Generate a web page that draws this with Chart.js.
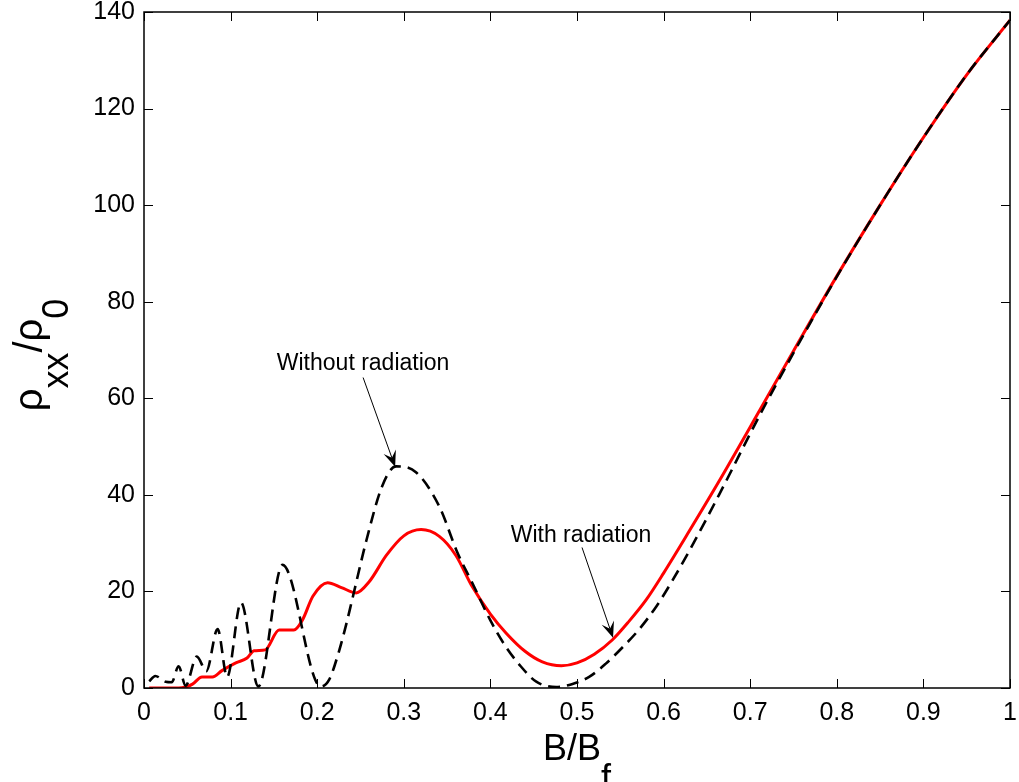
<!DOCTYPE html>
<html>
<head>
<meta charset="utf-8">
<script src="https://cdn.jsdelivr.net/npm/chart.js@4.4.0/dist/chart.umd.min.js"></script>
<style>
  body { margin: 0; background: #fff; }
  canvas { display: block; }
</style>
</head>
<body>
<canvas id="chart" width="1019" height="782"></canvas>
<script>
// values: B/Bf on x, rho_xx/rho_0 on y
const withRadB = [0.006, 0.02, 0.04, 0.048, 0.056, 0.067, 0.079, 0.09, 0.106, 0.119, 0.127, 0.14, 0.156, 0.173,
  0.183, 0.195, 0.212, 0.228, 0.245, 0.26, 0.28, 0.30, 0.32, 0.341, 0.36, 0.379, 0.40, 0.418, 0.44, 0.46, 0.482,
  0.50, 0.52, 0.541, 0.56, 0.58, 0.60, 0.63, 0.664, 0.711, 0.75, 0.80, 0.85, 0.90, 0.95, 1.0];
const withRadRho = [0, 0, 0, 0.2, 0.8, 2.3, 2.3, 3.6, 5.2, 6.2, 7.7, 7.9, 12, 12,
  14.1, 19, 21.8, 20.8, 19.7, 22, 27.5, 31.5, 32.8, 31.4, 27.5, 21, 15.3, 11.4, 7.6, 5.4, 4.6,
  5.2, 7, 10, 13.8, 18.3, 23.8, 32.6, 42.8, 57.5, 69.8, 85.3, 100, 114, 127, 138.3];

const noRadB = [0.006, 0.013, 0.025, 0.032, 0.040, 0.048, 0.061, 0.072, 0.085, 0.096, 0.112, 0.132, 0.160, 0.204,
  0.214, 0.225, 0.233, 0.24, 0.257, 0.275, 0.291, 0.314, 0.341, 0.362, 0.379, 0.40, 0.418, 0.435, 0.453, 0.476,
  0.494, 0.514, 0.533, 0.553, 0.572, 0.592, 0.61, 0.63, 0.664, 0.711, 0.75, 0.80, 0.85, 0.90, 0.95, 1.0];
const noRadRho = [1.4, 2.5, 1.3, 1.2, 4.5, 0.5, 6.5, 3.5, 12.2, 2.3, 17.7, 0.3, 25.5, 0.3,
  1.8, 7.5, 12.8, 18, 30.7, 41.8, 45.9, 44.7, 37.6, 28, 21.8, 14, 8.5, 4.5, 1.3, 0.2,
  0.8, 2.3, 5, 8.5, 12.2, 17, 22.2, 28.5, 40, 56.5, 69.4, 85.2, 100, 114, 127, 138.3];

const xTickValues = [0, 0.1, 0.2, 0.3, 0.4, 0.5, 0.6, 0.7, 0.8, 0.9, 1];
const yTickValues = [0, 20, 40, 60, 80, 100, 120, 140];

// annotation text + arrow (tail -> tip), in data units
const noteTexts = ['Without radiation', 'With radiation'];
const noteTextAt = [[0.253, 65.9], [0.5046, 30.3]];
const noteTails = [[0.253, 64.3], [0.5058, 29.1]];
const noteTips = [[0.29, 45.8], [0.5416, 10.4]];

const FONT = '"Liberation Sans", Arial, Helvetica, sans-serif';

function toPoints(xs, ys) {
  return xs.map((x, i) => ({ x: x, y: ys[i] }));
}

function drawArrow(ctx, x0, y0, x1, y1) {
  const ang = Math.atan2(y1 - y0, x1 - x0);
  const len = 16, half = 6.5;
  ctx.beginPath();
  ctx.moveTo(x0, y0);
  ctx.lineTo(x1 - Math.cos(ang) * 8, y1 - Math.sin(ang) * 8);
  ctx.lineWidth = 1;
  ctx.stroke();
  const bx = x1 - Math.cos(ang) * len, by = y1 - Math.sin(ang) * len;
  const nx = -Math.sin(ang), ny = Math.cos(ang);
  ctx.beginPath();
  ctx.moveTo(x1, y1);
  ctx.lineTo(bx + nx * half, by + ny * half);
  ctx.lineTo(x1 - Math.cos(ang) * len * 0.6, y1 - Math.sin(ang) * len * 0.6);
  ctx.lineTo(bx - nx * half, by - ny * half);
  ctx.closePath();
  ctx.fill();
}

// draws text with a lowered subscript, centred on cx (baseline y)
function drawSubText(ctx, main, sub, cx, y, mainSize, subSize, drop) {
  ctx.font = mainSize + 'px ' + FONT;
  const wm = ctx.measureText(main).width;
  ctx.font = subSize + 'px ' + FONT;
  const ws = ctx.measureText(sub).width;
  const x = cx - (wm + ws) / 2;
  ctx.textAlign = 'left';
  ctx.textBaseline = 'alphabetic';
  ctx.font = mainSize + 'px ' + FONT;
  ctx.fillText(main, x, y);
  ctx.font = subSize + 'px ' + FONT;
  ctx.fillText(sub, x + wm, y + drop);
}

const figureDecor = {
  id: 'figureDecor',
  beforeDraw(chart) {
    const ctx = chart.ctx;
    ctx.save();
    ctx.fillStyle = '#fff';
    ctx.fillRect(0, 0, chart.width, chart.height);
    ctx.restore();
  },
  afterDraw(chart) {
    const { ctx, chartArea: a, scales: { x, y } } = chart;
    ctx.save();
    ctx.strokeStyle = '#000';
    ctx.fillStyle = '#000';
    ctx.lineWidth = 1;

    // ticks pointing inward, on all four sides
    const tl = 9;
    ctx.beginPath();
    xTickValues.forEach(v => {
      const px = Math.round(x.getPixelForValue(v)) + 0.5;
      ctx.moveTo(px, a.bottom); ctx.lineTo(px, a.bottom - tl);
      ctx.moveTo(px, a.top); ctx.lineTo(px, a.top + tl);
    });
    yTickValues.forEach(v => {
      const py = Math.round(y.getPixelForValue(v)) + 0.5;
      ctx.moveTo(a.left, py); ctx.lineTo(a.left + tl, py);
      ctx.moveTo(a.right, py); ctx.lineTo(a.right - tl, py);
    });
    ctx.stroke();

    ctx.lineWidth = 1.5;
    ctx.strokeRect(a.left, a.top, a.right - a.left, a.bottom - a.top);

    // axis titles
    drawSubText(ctx, 'B/B', 'f', (a.left + a.right) / 2, 760, 36, 36, 30);
    ctx.save();
    ctx.translate(42, 355);
    ctx.rotate(-Math.PI / 2);
    ctx.font = '40px ' + FONT;
    const w1 = ctx.measureText('ρ').width;
    ctx.font = '36px ' + FONT;
    const w2 = ctx.measureText('xx').width;
    ctx.font = '40px ' + FONT;
    const w3 = ctx.measureText('/ρ').width;
    ctx.font = '36px ' + FONT;
    const w4 = ctx.measureText('0').width;
    let sx = -(w1 + w2 + w3 + w4) / 2;
    ctx.textAlign = 'left';
    ctx.textBaseline = 'alphabetic';
    ctx.font = '40px ' + FONT; ctx.fillText('ρ', sx, 0); sx += w1;
    ctx.font = '36px ' + FONT; ctx.fillText('xx', sx, 26); sx += w2;
    ctx.font = '40px ' + FONT; ctx.fillText('/ρ', sx, 0); sx += w3;
    ctx.font = '36px ' + FONT; ctx.fillText('0', sx, 26);
    ctx.restore();

    // annotations
    ctx.font = '23px ' + FONT;
    ctx.textAlign = 'center';
    ctx.textBaseline = 'alphabetic';
    noteTexts.forEach((t, i) => {
      ctx.fillText(t, x.getPixelForValue(noteTextAt[i][0]), y.getPixelForValue(noteTextAt[i][1]));
      drawArrow(ctx,
        x.getPixelForValue(noteTails[i][0]), y.getPixelForValue(noteTails[i][1]),
        x.getPixelForValue(noteTips[i][0]), y.getPixelForValue(noteTips[i][1]));
    });
    ctx.restore();
  }
};

new Chart(document.getElementById('chart'), {
  type: 'line',
  data: {
    datasets: [
      {
        label: 'Without radiation',
        data: toPoints(noRadB, noRadRho),
        borderColor: '#000',
        borderWidth: 2.6,
        borderDash: [12, 7],
        pointRadius: 0,
        cubicInterpolationMode: 'monotone',
        order: 0
      },
      {
        label: 'With radiation',
        data: toPoints(withRadB, withRadRho),
        borderColor: '#ff0000',
        borderWidth: 3,
        pointRadius: 0,
        cubicInterpolationMode: 'monotone',
        order: 1
      }
    ]
  },
  options: {
    responsive: false,
    devicePixelRatio: 1,
    animation: false,
    layout: { padding: { top: 12, right: 9, left: 0, bottom: 0 } },
    plugins: { legend: { display: false }, tooltip: { enabled: false } },
    scales: {
      x: {
        type: 'linear',
        min: 0,
        max: 1,
        afterBuildTicks: s => { s.ticks = xTickValues.map(v => ({ value: v })); },
        afterFit: s => { s.height = 94; s.paddingLeft = 0; s.paddingRight = 0; },
        grid: { display: false, drawTicks: false },
        border: { display: false },
        ticks: {
          padding: 10,
          color: '#000',
          font: { family: FONT, size: 25 },
          maxRotation: 0,
          callback: v => String(v)
        }
      },
      y: {
        type: 'linear',
        min: 0,
        max: 140,
        afterBuildTicks: s => { s.ticks = yTickValues.map(v => ({ value: v })); },
        afterFit: s => { s.width = 144; s.paddingTop = 0; s.paddingBottom = 0; },
        grid: { display: false, drawTicks: false },
        border: { display: false },
        ticks: {
          padding: 9,
          color: '#000',
          font: { family: FONT, size: 25 },
          callback: v => String(v)
        }
      }
    }
  },
  plugins: [figureDecor]
});
</script>
</body>
</html>
